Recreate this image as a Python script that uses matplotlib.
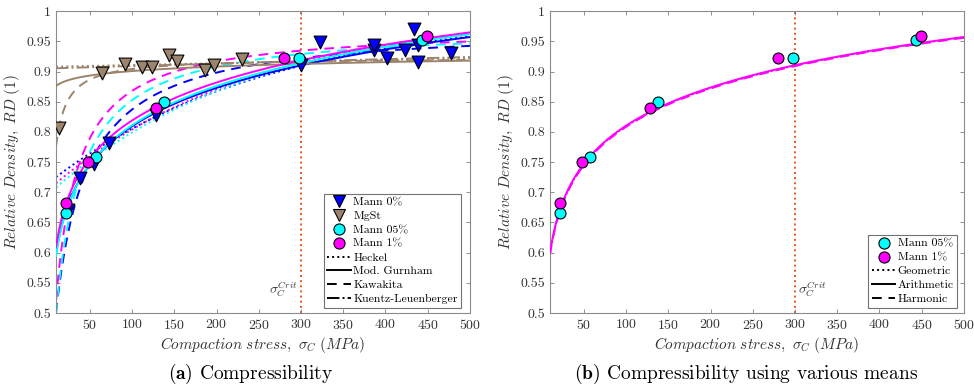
import numpy as np
import matplotlib.pyplot as plt
from matplotlib.lines import Line2D

plt.rcParams['font.family'] = 'serif'
plt.rcParams['font.serif'] = ['cmr10']
plt.rcParams['mathtext.fontset'] = 'cm'
plt.rcParams['axes.formatter.use_mathtext'] = True

# measured points: compaction stress (MPa) / relative density
mann0_stress = [24, 38, 55, 73, 128, 300, 322, 386, 386, 402, 423, 434, 438, 438, 477]
mann0_rd = [0.670, 0.723, 0.747, 0.782, 0.828, 0.911, 0.949, 0.936, 0.944, 0.922, 0.936, 0.970, 0.944, 0.915, 0.930]
mgst_stress = [14, 65, 92, 112, 124, 144, 153, 186, 197, 230]
mgst_rd = [0.807, 0.898, 0.912, 0.908, 0.908, 0.927, 0.917, 0.902, 0.911, 0.921]
mann05_stress = [22, 57, 138, 298, 443]
mann05_rd = [0.665, 0.758, 0.849, 0.923, 0.953]
mann1_stress = [22, 48, 128, 280, 449]
mann1_rd = [0.682, 0.750, 0.840, 0.922, 0.958]

# fitted model parameters, order: Mann 0%, MgSt, Mann 05%, Mann 1%
heckel_K = [0.003835, 0.000337, 0.004161, 0.004167]
heckel_A = [1.253, 2.383, 1.189, 1.213]
gurnham_a = [0.3866, 0.8513, 0.379, 0.4012]
gurnham_b = [0.0918, 0.01074, 0.0938, 0.0907]
kawakita_D0 = [0.326, 0.299, 0.277, 0.260]
kawakita_a = [0.666, 0.676, 0.716, 0.733]
kawakita_b = [0.11, 1.0, 0.165, 0.215]
kl_rhoc = [0.905]
kl_C = [0.000484]

# means of Mann 05% / Mann 1% (Gurnham form): geometric, arithmetic, harmonic
means_a = [0.388, 0.3898, 0.386]
means_b = [0.0915, 0.0913, 0.0917]

sigma_crit = 300

colors = ['#0000ff', '#9c846c', '#00ffff', '#ff00ff']
s = np.linspace(10, 500, 600)
dash = (0, (5, 3.5))


def heckel(K, A):
    return 1 - np.exp(-(K * s + A))


def gurnham(a, b):
    return a + b * np.log(s)


def kawakita(D0, a, b):
    return D0 / (1 - a * b * s / (1 + b * s))


def kuentz(rhoc, C):
    rho = np.linspace(rhoc, 0.9999, 4000)
    sig = (rho - rhoc - np.log((1 - rho) / (1 - rhoc))) / C
    return np.interp(s, sig, rho)


def style_axes(ax):
    ax.set_xlim(10, 500)
    ax.set_ylim(0.5, 1)
    ax.set_xticks(np.arange(50, 501, 50))
    yt = np.arange(0.5, 1.001, 0.05)
    ax.set_yticks(yt)
    ax.set_yticklabels(['%g' % round(v, 2) for v in yt])
    ax.tick_params(direction='in', top=True, right=True, length=3,
                   width=0.6, colors='0.5', labelcolor='#333333', labelsize=10)
    for sp in ax.spines.values():
        sp.set_color('0.55')
        sp.set_linewidth(0.8)
    ax.set_xlabel(r'$Compaction\ stress,\ \sigma_C\ (MPa)$', fontsize=11,
                  color='#333333', labelpad=2)
    ax.set_ylabel(r'$Relative\ Density,\ RD\ (1)$', fontsize=11,
                  color='#333333', labelpad=3)
    ax.axvline(sigma_crit, color='#e8581c', ls=':', lw=1.4, zorder=1)


def legend(ax, handles, labels, anchor):
    leg = ax.legend(handles, labels, loc='lower right', fontsize=8.5,
                    handlelength=2.0, handletextpad=0.2, labelspacing=0.3,
                    borderpad=0.3, borderaxespad=0.2, fancybox=False,
                    edgecolor='0.45', framealpha=1, bbox_to_anchor=anchor)
    leg.get_frame().set_linewidth(0.8)


def marker(m, c, ms):
    return Line2D([], [], ls='none', marker=m, ms=ms, mfc=c, mec='black', mew=0.8)


fig = plt.figure(figsize=(9.74, 3.91), dpi=100)
ax1 = fig.add_axes([0.0575, 0.1995, 0.425, 0.772])
ax2 = fig.add_axes([0.5647, 0.1995, 0.425, 0.772])

# (a) model fits for all four powders
lw = 1.4
for i, c in enumerate(colors):
    ax1.plot(s, heckel(heckel_K[i], heckel_A[i]), color=c, ls=':', lw=lw, zorder=2)
    ax1.plot(s, kawakita(kawakita_D0[i], kawakita_a[i], kawakita_b[i]),
             color=c, ls=dash, lw=lw, zorder=2)
    ax1.plot(s, gurnham(gurnham_a[i], gurnham_b[i]), color=c, ls='-', lw=lw, zorder=3)
ax1.plot(s, kuentz(kl_rhoc[0], kl_C[0]), color=colors[1], ls='-.', lw=lw, zorder=2)

mk = dict(edgecolor='black', linewidths=0.8, zorder=5)
ax1.scatter(mann0_stress, mann0_rd, s=85, marker='v', color=colors[0], **mk)
ax1.scatter(mgst_stress, mgst_rd, s=85, marker='v', color=colors[1], **mk)
ax1.scatter(mann05_stress, mann05_rd, s=62, marker='o', color=colors[2], **mk)
ax1.scatter(mann1_stress, mann1_rd, s=62, marker='o', color=colors[3], **mk)

style_axes(ax1)
ax1.text(sigma_crit - 4, 0.523, r'$\sigma_C^{Crit}$', ha='right', va='bottom',
         fontsize=10, color='#333333')

h1 = [marker('v', colors[0], 9), marker('v', colors[1], 9),
      marker('o', colors[2], 8), marker('o', colors[3], 8),
      Line2D([], [], color='black', ls=':', lw=1.4),
      Line2D([], [], color='black', ls='-', lw=1.4),
      Line2D([], [], color='black', ls=dash, lw=1.4),
      Line2D([], [], color='black', ls='-.', lw=1.4)]
l1 = ['Mann 0%', 'MgSt', 'Mann 05%', 'Mann 1%', 'Heckel', 'Mod. Gurnham',
      'Kawakita', 'Kuentz-Leuenberger']
legend(ax1, h1, l1, (0.985, 0.01))

# (b) fits of the mean data
ax2.plot(s, gurnham(means_a[0], means_b[0]), color=colors[3], ls=':', lw=lw, zorder=2)
ax2.plot(s, gurnham(means_a[2], means_b[2]), color=colors[3], ls=dash, lw=lw, zorder=2)
ax2.plot(s, gurnham(means_a[1], means_b[1]), color=colors[3], ls='-', lw=lw, zorder=3)
ax2.scatter(mann05_stress, mann05_rd, s=62, marker='o', color=colors[2], **mk)
ax2.scatter(mann1_stress, mann1_rd, s=62, marker='o', color=colors[3], **mk)

style_axes(ax2)
ax2.text(sigma_crit + 3, 0.523, r'$\sigma_C^{Crit}$', ha='left', va='bottom',
         fontsize=10, color='#333333')

h2 = [marker('o', colors[2], 8), marker('o', colors[3], 8),
      Line2D([], [], color='black', ls=':', lw=1.4),
      Line2D([], [], color='black', ls='-', lw=1.4),
      Line2D([], [], color='black', ls=dash, lw=1.4)]
l2 = ['Mann 05%', 'Mann 1%', 'Geometric', 'Arithmetic', 'Harmonic']
legend(ax2, h2, l2, (0.99, 0.01))

fig.text(0.257, 0.03, r'$\mathbf{(a)}$ Compressibility', ha='center', fontsize=14)
fig.text(0.766, 0.03, r'$\mathbf{(b)}$ Compressibility using various means',
         ha='center', fontsize=14)

fig.savefig('out.png', dpi=100)
